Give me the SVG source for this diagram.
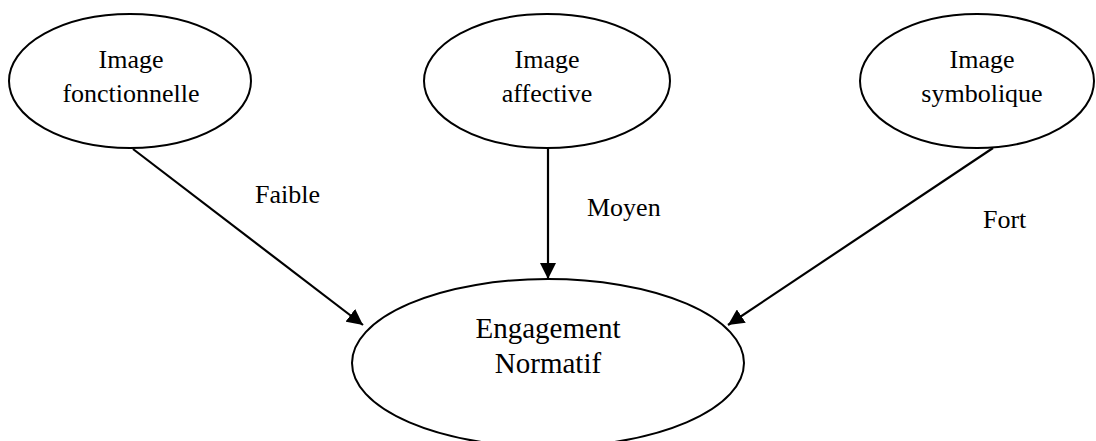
<svg xmlns="http://www.w3.org/2000/svg" width="1096" height="441" viewBox="0 0 1096 441">
  <style>
    .node { fill: #ffffff; stroke: #000000; stroke-width: 2; }
    .txt { font-family: 'Liberation Serif', 'Nimbus Roman', FreeSerif, 'DejaVu Serif', 'Times New Roman', serif; font-size: 26px; fill: #000000; }
    .big { font-size: 29px; }
    .link { stroke: #000000; stroke-width: 2.2; fill: none; marker-end: url(#arrow); }
  </style>
  <defs>
    <marker id="arrow" markerUnits="userSpaceOnUse" markerWidth="16" markerHeight="16" refX="16" refY="8" orient="auto">
      <path d="M0,0 L16,8 L0,16 z" fill="#000000"/>
    </marker>
  </defs>
  <rect width="1096" height="441" fill="#ffffff"/>

  <!-- influence links with strength labels -->
  <g id="connectors">
    <path class="link" d="M133,149 L363,325"/>
    <path class="link" d="M548,148 L548,279"/>
    <path class="link" d="M993,148 L728,325"/>
    <text class="txt" x="255" y="203">Faible</text>
    <text class="txt" x="587" y="216">Moyen</text>
    <text class="txt" x="983" y="228">Fort</text>
  </g>

  <g id="image-fonctionnelle">
    <ellipse class="node" cx="130" cy="81" rx="121" ry="67"/>
    <text class="txt" x="131" y="68" text-anchor="middle">Image</text>
    <text class="txt" x="131" y="102" text-anchor="middle">fonctionnelle</text>
  </g>

  <g id="image-affective">
    <ellipse class="node" cx="547" cy="81" rx="123" ry="67"/>
    <text class="txt" x="547" y="68" text-anchor="middle">Image</text>
    <text class="txt" x="547" y="102" text-anchor="middle">affective</text>
  </g>

  <g id="image-symbolique">
    <ellipse class="node" cx="977" cy="81" rx="117" ry="67"/>
    <text class="txt" x="982" y="68" text-anchor="middle">Image</text>
    <text class="txt" x="982" y="102" text-anchor="middle">symbolique</text>
  </g>

  <g id="engagement-normatif">
    <ellipse class="node" cx="548" cy="363" rx="196" ry="84"/>
    <text class="txt big" x="548" y="338" text-anchor="middle">Engagement</text>
    <text class="txt big" x="548" y="373" text-anchor="middle">Normatif</text>
  </g>
</svg>
